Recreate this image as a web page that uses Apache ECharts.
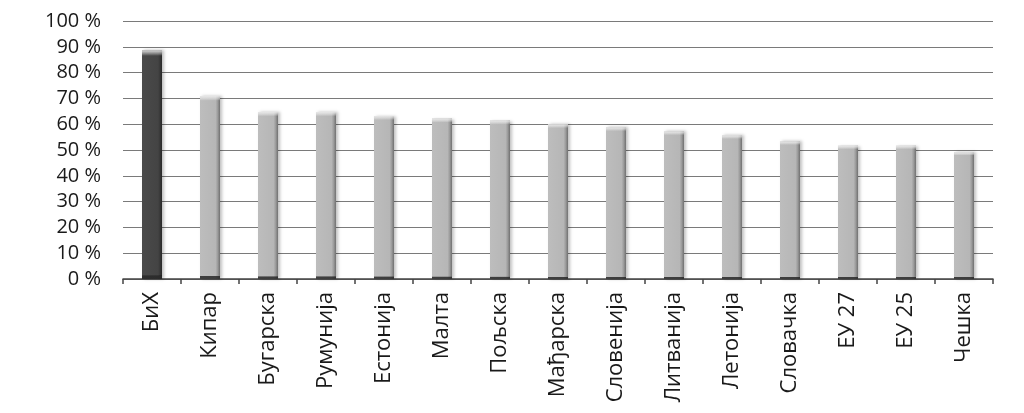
<!DOCTYPE html>
<html>
<head>
<meta charset="utf-8">
<script src="https://cdn.jsdelivr.net/npm/echarts@6/dist/echarts.min.js"></script>
<style>
html,body{margin:0;padding:0;background:#fff;}
#chart{width:1024px;height:413px;}
</style>
</head>
<body>
<div id="chart"></div>
<script>
const categories = ['БиХ','Кипар','Бугарска','Румунија','Естонија','Малта','Пољска','Мађарска','Словенија','Литванија','Летонија','Словачка','ЕУ 27','ЕУ 25','Чешка'];
const values = [88.7, 70.9, 64.7, 64.7, 63.2, 62.2, 61.4, 60.0, 58.8, 57.2, 55.7, 53.3, 51.6, 51.6, 49.1];
const highlighted = ['БиХ'];
const yTicks = [0,10,20,30,40,50,60,70,80,90,100];

const font = 'Open Sans';
function hGrad(dark){
  return dark ? new echarts.graphic.LinearGradient(0,0,1,0,[
    {offset:0,color:'#4a4a4a'},{offset:0.8,color:'#444444'},{offset:0.9,color:'#383838'},{offset:1,color:'#2a2a2a'}])
  : new echarts.graphic.LinearGradient(0,0,1,0,[
    {offset:0,color:'#bdbdbd'},{offset:0.78,color:'#b6b6b6'},{offset:0.88,color:'#9c9c9c'},{offset:1,color:'#707070'}]);
}
const overlay = new echarts.graphic.LinearGradient(0,0,0,1,[
  {offset:0,color:'rgba(235,235,235,0.9)'},{offset:0.025,color:'rgba(255,255,255,0)'},
  {offset:0.984,color:'rgba(0,0,0,0)'},{offset:0.986,color:'rgba(40,40,40,0.85)'},{offset:1,color:'rgba(40,40,40,0.85)'}]);

const chart = echarts.init(document.getElementById('chart'));
chart.setOption({
  animation:false,
  grid:{left:123,right:31,top:21,bottom:134,containLabel:false},
  xAxis:{
    type:'category',
    data:categories,
    axisLine:{lineStyle:{color:'#444',width:1.5}},
    axisTick:{show:true,length:5,lineStyle:{color:'#444',width:1.5},alignWithLabel:false},
    axisLabel:{rotate:90,margin:13,color:'#1a1a1a',fontFamily:font,fontSize:22}
  },
  yAxis:{
    type:'value',min:0,max:100,interval:10,
    axisLine:{show:false},axisTick:{show:false},
    splitLine:{lineStyle:{color:'#7a7a7a',width:1}},
    axisLabel:{margin:22,color:'#1a1a1a',fontFamily:font,fontSize:20,
      formatter:function(v){return yTicks.indexOf(v)>=0 ? v+' %' : '';}}
  },
  series:[{
    type:'bar',
    barWidth:20,
    data:values.map((v,i)=>({value:v,itemStyle:{color:hGrad(highlighted.indexOf(categories[i])>=0)}})),
    itemStyle:{shadowColor:'rgba(0,0,0,0.25)',shadowBlur:3,shadowOffsetX:2,shadowOffsetY:0}
  },{
    type:'bar',
    barWidth:20,
    barGap:'-100%',
    data:values,
    itemStyle:{color:overlay},
    silent:true
  }]
});
</script>
</body>
</html>
